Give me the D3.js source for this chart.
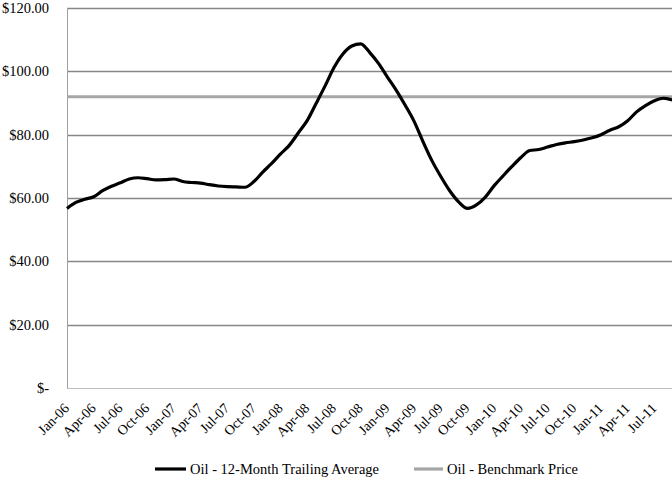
<!DOCTYPE html>
<html><head><meta charset="utf-8">
<script src="https://cdn.jsdelivr.net/npm/d3@7/dist/d3.min.js"></script>
<style>body{margin:0;background:#fff}svg{display:block}text{font-family:"Liberation Serif","Times New Roman",serif;fill:#000}</style>
</head><body><svg id="c" width="672" height="478"></svg>
<script>
const months = d3.range(69).map(i => new Date(2006, i, 1));
const trailingAvg = [56.7,58.6,59.6,60.4,62.3,63.7,64.8,66.0,66.4,66.1,65.7,65.8,66.0,65.2,64.9,64.7,64.2,63.8,63.6,63.5,63.4,65.2,68.2,70.9,73.9,76.7,80.6,84.5,89.9,95.4,101.2,105.5,108.0,108.7,106.0,102.5,98.2,94.0,89.3,84.2,77.8,71.8,66.8,62.3,58.8,56.7,57.8,60.3,63.9,67.0,70.0,72.8,75.0,75.3,76.1,76.9,77.4,77.8,78.3,79.0,80.0,81.4,82.5,84.4,87.2,89.2,90.7,91.5,91.0];
const benchmarkPrice = 92;
const yTicks = [0,20,40,60,80,100,120];
const seriesNames = ["Oil - 12-Month Trailing Average","Oil - Benchmark Price"];

const svg = d3.select("#c");
const L = 67, R = 672.2, T = 8, B = 388;
const x = d3.scaleLinear().domain([0, months.length - 1]).range([L, R]);
const y = d3.scaleLinear().domain([0, 120]).range([B, T]);
const fmtM = d3.timeFormat("%b-%y");

// gridlines
svg.append("g").selectAll("line").data(yTicks.filter(d => d > 0)).join("line")
  .attr("x1", L).attr("x2", 672).attr("y1", d => Math.round(y(d)) + 0.5).attr("y2", d => Math.round(y(d)) + 0.5)
  .attr("stroke", "#868686").attr("stroke-width", 1.3);
// axes lines
svg.append("line").attr("x1", L + 0.5).attr("x2", L + 0.5).attr("y1", T).attr("y2", B).attr("stroke", "#a0a0a0");
svg.append("line").attr("x1", L).attr("x2", 672).attr("y1", B + 0.5).attr("y2", B + 0.5).attr("stroke", "#bdbdbd");

// y labels
svg.append("g").selectAll("text").data(yTicks).join("text")
  .attr("x", 49).attr("y", d => y(d)).attr("dy", "0.35em").attr("text-anchor", "end")
  .style("font-size", "14.5px")
  .text(d => d === 0 ? "$-" : "$" + d3.format(".2f")(d));

// x labels every 3 months
const xt = d3.range(0, 67, 3);
svg.append("g").selectAll("text").data(xt).join("text")
  .attr("transform", i => `translate(${x(i) + 3},${B + 21}) rotate(-45)`)
  .attr("text-anchor", "end").style("font-size", "14px")
  .text(i => fmtM(months[i]));

// benchmark
svg.append("line").attr("x1", L).attr("x2", 672).attr("y1", y(benchmarkPrice)).attr("y2", y(benchmarkPrice))
  .attr("stroke", "#a6a6a6").attr("stroke-width", 3);

// trailing avg
svg.append("path").datum(trailingAvg)
  .attr("d", d3.line().x((d, i) => x(i)).y(d => y(d)).curve(d3.curveMonotoneX))
  .attr("fill", "none").attr("stroke", "#000").attr("stroke-width", 3.2).attr("stroke-linejoin", "round");

// legend
const lg = svg.append("g");
lg.append("line").attr("x1", 155).attr("x2", 186).attr("y1", 469).attr("y2", 469).attr("stroke", "#000").attr("stroke-width", 3.2);
lg.append("text").attr("x", 190).attr("y", 474).style("font-size", "14.5px").text(seriesNames[0]);
lg.append("line").attr("x1", 414).attr("x2", 443).attr("y1", 469).attr("y2", 469).attr("stroke", "#a6a6a6").attr("stroke-width", 3.2);
lg.append("text").attr("x", 447).attr("y", 474).style("font-size", "14.5px").text(seriesNames[1]);
</script></body></html>
